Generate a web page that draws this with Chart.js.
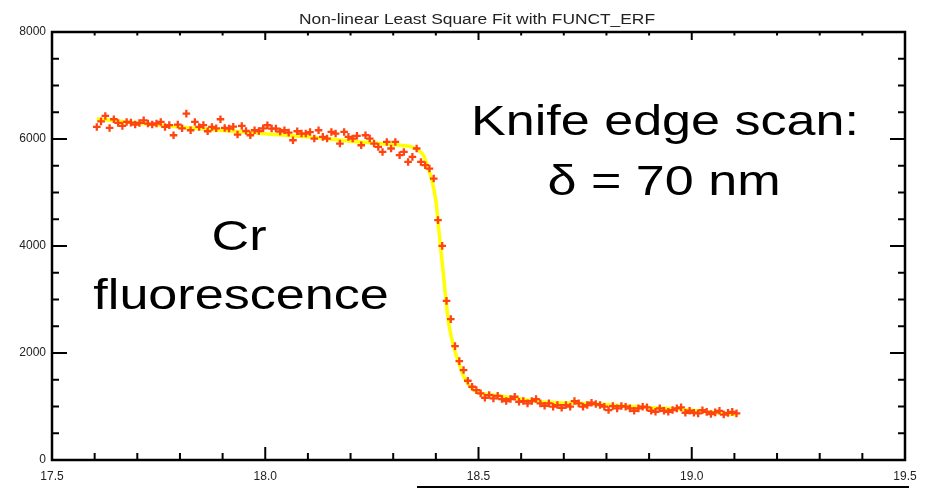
<html lang="en">
  <head>
    <title>Knife edge scan</title>
    <meta charset="utf-8">
    <script src="https://cdn.jsdelivr.net/npm/chart.js@4.4.1/dist/chart.umd.min.js"></script>
    <style>
      body { margin: 0; background: #fff; }
      canvas { display: block; }
    </style>
  </head>
  <body>
  <canvas id="edgeChart" width="930" height="489"></canvas>
  <script>
    // scan positions (x) and measured Cr fluorescence counts
    var scanX = [
      17.605,17.615,17.625,17.635,17.645,17.655,17.665,17.675,17.685,17.695,
      17.705,17.715,17.725,17.735,17.745,17.755,17.765,17.775,17.785,17.795,
      17.805,17.815,17.825,17.835,17.845,17.855,17.865,17.875,17.885,17.895,
      17.905,17.915,17.925,17.935,17.945,17.955,17.965,17.975,17.985,17.995,
      18.005,18.015,18.025,18.035,18.045,18.055,18.065,18.075,18.085,18.095,
      18.105,18.115,18.125,18.135,18.145,18.155,18.165,18.175,18.185,18.195,
      18.205,18.215,18.225,18.235,18.245,18.255,18.265,18.275,18.285,18.295,
      18.305,18.315,18.325,18.335,18.345,18.355,18.365,18.375,18.385,18.395,
      18.405,18.415,18.425,18.435,18.445,18.455,18.465,18.475,18.485,18.495,
      18.505,18.515,18.525,18.535,18.545,18.555,18.565,18.575,18.585,18.595,
      18.605,18.615,18.625,18.635,18.645,18.655,18.665,18.675,18.685,18.695,
      18.705,18.715,18.725,18.735,18.745,18.755,18.765,18.775,18.785,18.795,
      18.805,18.815,18.825,18.835,18.845,18.855,18.865,18.875,18.885,18.895,
      18.905,18.915,18.925,18.935,18.945,18.955,18.965,18.975,18.985,18.995,
      19.005,19.015,19.025,19.035,19.045,19.055,19.065,19.075,19.085,19.095,
      19.105
    ];
    var counts = [
      6225,6330,6431,6207,6369,6300,6244,6319,6307,6270,
      6300,6350,6289,6270,6290,6319,6225,6260,6070,6270,
      6200,6475,6164,6319,6225,6260,6145,6225,6200,6369,
      6207,6195,6230,6083,6244,6150,6070,6164,6150,6200,
      6257,6195,6195,6140,6164,6120,5977,6145,6102,6102,
      6130,6008,6164,6039,6008,6132,6102,5915,6132,6039,
      6008,6060,5883,6070,6008,5915,5852,5758,5945,5822,
      5945,5697,5758,5571,5665,5822,5571,5510,5448,5261,
      4483,4003,2975,2634,2129,1849,1681,1481,1369,1307,
      1246,1164,1214,1152,1200,1139,1102,1139,1182,1089,
      1102,1059,1102,1139,1059,1014,1059,996,1027,977,
      1027,996,1102,1059,996,1027,1070,1046,1027,996,
      934,1008,965,1008,996,965,921,965,996,984,
      921,902,965,921,902,934,965,984,883,921,
      883,872,930,900,860,890,920,850,880,900,
      872
    ];
    // erf fit curve
    var fitX = [17.605,17.70,17.80,17.90,18.00,18.10,18.20,18.27,18.32,18.345,18.36,18.371,18.38,18.39,18.40,
                18.407,18.415,18.423,18.430,18.442,18.454,18.466,18.481,18.497,18.535,18.60,18.646,18.763,18.88,19.00,19.105];
    var fitY = [6375,6300,6225,6160,6100,6040,5960,5915,5880,5850,5780,5697,5500,5250,4850,
                4296,3679,3044,2559,2111,1812,1550,1363,1270,1214,1140,1090,1050,990,930,840];

    // axis ranges and tick steps
    var xRange = [17.5, 19.5];
    var yRange = [0, 8000];
    var xMajor = 0.5, xMinor = 0.1;
    var yMajor = 2000, yMinor = 500;

    var points = scanX.map(function(x, i) { return {x: x, y: counts[i]}; });
    var fit = fitX.map(function(x, i) { return {x: x, y: fitY[i]}; });

    // draw a stretched text line, the slide text is wider than the font
    function wideText(ctx, str, cx, base, size, sx) {
      ctx.save();
      ctx.font = size + 'px "Liberation Sans", Arial, sans-serif';
      ctx.textAlign = 'center';
      ctx.textBaseline = 'alphabetic';
      ctx.translate(cx, base);
      ctx.scale(sx, 1);
      ctx.fillText(str, 0, 0);
      ctx.restore();
    }

    function seg(ctx, x1, y1, x2, y2) {
      ctx.beginPath();
      ctx.moveTo(x1, y1);
      ctx.lineTo(x2, y2);
      ctx.stroke();
    }

    // box and inward ticks on all four sides
    var framePlugin = {
      id: 'frame',
      beforeDatasetsDraw: function(chart) {
        var ctx = chart.ctx, a = chart.chartArea;
        var xs = chart.scales.x, ys = chart.scales.y;
        ctx.save();
        ctx.strokeStyle = '#000';
        ctx.lineWidth = 2;
        var nx = Math.round((xRange[1] - xRange[0]) / xMinor);
        for (var i = 0; i <= nx; i++) {
          var px = xs.getPixelForValue(xRange[0] + i * xMinor);
          var big = i % Math.round(xMajor / xMinor) === 0;
          seg(ctx, px, a.bottom, px, a.bottom - (big ? 13 : 7));
          seg(ctx, px, a.top, px, a.top + (big ? 8 : 3.5));
        }
        var ny = Math.round((yRange[1] - yRange[0]) / yMinor);
        for (var j = 0; j <= ny; j++) {
          var py = ys.getPixelForValue(yRange[0] + j * yMinor);
          var bigY = j % Math.round(yMajor / yMinor) === 0;
          seg(ctx, a.left, py, a.left + (bigY ? 15 : 7), py);
          seg(ctx, a.right, py, a.right - (bigY ? 15 : 7), py);
        }
        ctx.lineWidth = 2.5;
        ctx.strokeRect(a.left, a.top, a.right - a.left, a.bottom - a.top);
        ctx.restore();
      },
      afterDraw: function(chart) {
        var ctx = chart.ctx;
        ctx.save();
        ctx.fillStyle = '#222';
        wideText(ctx, 'Non-linear Least Square Fit with FUNCT_ERF', 477, 24, 14, 1.24);
        ctx.fillStyle = '#000';
        wideText(ctx, 'Knife edge scan:', 665, 135, 42, 1.24);
        wideText(ctx, '\u03b4 = 70 nm', 664, 195, 42, 1.24);
        wideText(ctx, 'Cr', 239, 250, 42, 1.24);
        wideText(ctx, 'fluorescence', 241, 309, 42, 1.24);
        // stray rule under the slide
        ctx.strokeStyle = '#000';
        ctx.lineWidth = 2;
        seg(ctx, 417, 487, 909, 487);
        ctx.restore();
      }
    };

    var tickFont = {family: '"Liberation Sans", Arial, sans-serif', size: 12};

    new Chart(document.getElementById('edgeChart'), {
      type: 'scatter',
      data: {
        datasets: [{
          label: 'data',
          data: points,
          showLine: false,
          pointStyle: 'cross',
          pointRadius: 3.8,
          pointBorderWidth: 2.3,
          borderColor: '#ff4410',
          backgroundColor: '#ff4410',
          order: 0
        }, {
          label: 'fit',
          data: fit,
          showLine: true,
          pointRadius: 0,
          borderColor: '#ffff00',
          borderWidth: 3.5,
          cubicInterpolationMode: 'monotone',
          order: 1
        }]
      },
      options: {
        responsive: false,
        animation: false,
        layout: { padding: 0 },
        plugins: { legend: { display: false }, tooltip: { enabled: false }, title: { display: false } },
        scales: {
          x: {
            type: 'linear', position: 'bottom',
            min: xRange[0], max: xRange[1],
            grid: { display: false, drawTicks: false }, border: { display: false },
            ticks: { stepSize: xMajor, padding: 9, color: '#222', font: tickFont,
                     maxRotation: 0, callback: function(v) { return v.toFixed(1); } },
            afterFit: function(s) { s.height = 29; }
          },
          x2: {
            type: 'linear', position: 'top',
            min: xRange[0], max: xRange[1],
            grid: { display: false, drawTicks: false }, border: { display: false },
            ticks: { display: false },
            afterFit: function(s) { s.height = 32; }
          },
          y: {
            type: 'linear', position: 'left',
            min: yRange[0], max: yRange[1],
            grid: { display: false, drawTicks: false }, border: { display: false },
            ticks: { stepSize: yMajor, padding: 6, color: '#222', font: tickFont,
                     callback: function(v) { return String(v); } },
            afterFit: function(s) { s.width = 52; }
          },
          y2: {
            type: 'linear', position: 'right',
            min: yRange[0], max: yRange[1],
            grid: { display: false, drawTicks: false }, border: { display: false },
            ticks: { display: false },
            afterFit: function(s) { s.width = 25; }
          }
        }
      },
      plugins: [framePlugin]
    });
  </script>
  </body>
</html>
